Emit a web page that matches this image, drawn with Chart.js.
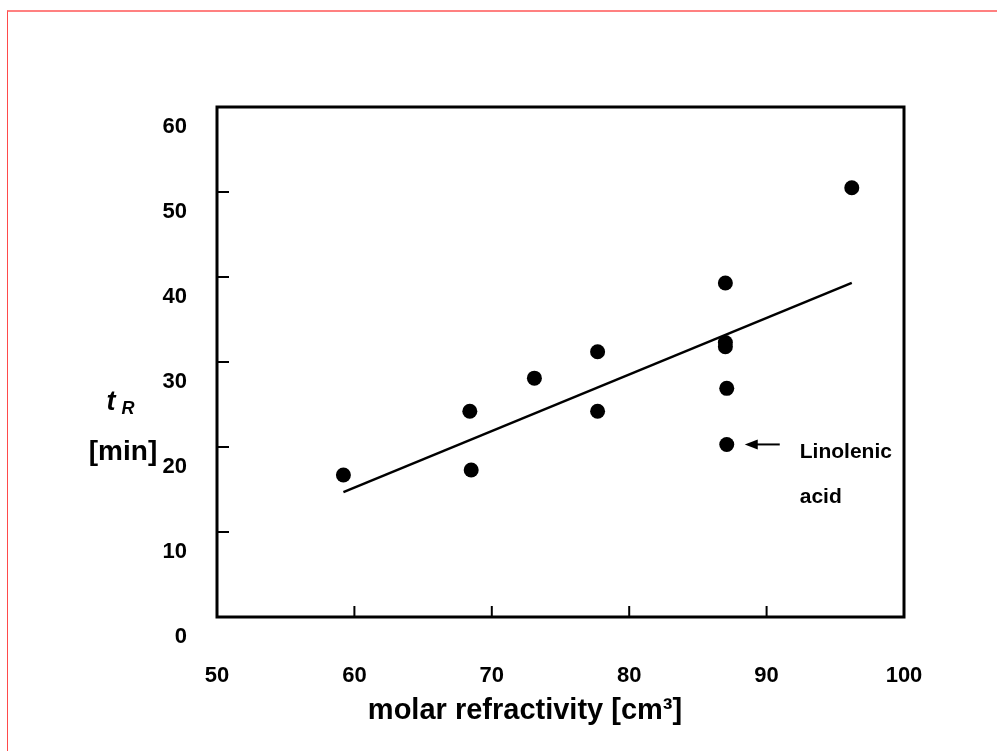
<!DOCTYPE html>
<html>
<head>
<meta charset="utf-8">
<script src="https://cdn.jsdelivr.net/npm/chart.js@4"></script>
<style>
  html, body { margin: 0; padding: 0; background: #fff; overflow: hidden; }
  #wrap { position: relative; width: 997px; height: 751px; }
  #frame {
    position: absolute; left: 7px; top: 10px; width: 1200px; height: 1000px;
    border-top: 2px solid #ff8080; border-left: 1px solid #ff4a4a;
    pointer-events: none;
  }
  canvas { position: absolute; left: 0; top: 0; }
</style>
</head>
<body>
<div id="wrap">
  <div id="frame"></div>
  <canvas id="chart" width="997" height="751"></canvas>
</div>
<script>
// molar refractivity [cm3] vs retention time tR [min]
const mrValues = [59.2, 68.4, 68.5, 73.1, 77.7, 77.7, 87.0, 87.0, 87.0, 87.1, 87.1, 96.2];
const tRValues = [16.7, 24.2, 17.3, 28.1, 31.2, 24.2, 39.3, 32.3, 31.8, 26.9, 20.3, 50.5];

// regression line end points
const fitX = [59.2, 96.2];
const fitY = [14.7, 39.3];

// axis ticks
const xTicks = [50, 60, 70, 80, 90, 100];
const yTicks = [0, 10, 20, 30, 40, 50, 60];

const xTitle = 'molar refractivity [cm\u00b3]';
const noteLines = ['Linolenic', 'acid'];
const notePoint = [87.1, 20.3];

const FONT = "'Liberation Sans', Arial, sans-serif";

const points = mrValues.map((x, i) => ({ x, y: tRValues[i] }));
const fitLine = fitX.map((x, i) => ({ x, y: fitY[i] }));

// frame, inward ticks, titles and the note arrow
const decorPlugin = {
  id: 'decor',
  afterDraw(chart) {
    const { ctx, chartArea: a, scales } = chart;
    const xs = scales.x, ys = scales.y;
    ctx.save();
    ctx.strokeStyle = '#000';
    ctx.lineWidth = 2;
    xTicks.slice(1, -1).forEach((v) => {
      const px = xs.getPixelForValue(v);
      ctx.beginPath();
      ctx.moveTo(px, a.bottom);
      ctx.lineTo(px, a.bottom - 11);
      ctx.stroke();
    });
    yTicks.slice(1, -1).forEach((v) => {
      const py = ys.getPixelForValue(v);
      ctx.beginPath();
      ctx.moveTo(a.left, py);
      ctx.lineTo(a.left + 12, py);
      ctx.stroke();
    });
    ctx.lineWidth = 3;
    ctx.strokeRect(a.left, a.top, a.right - a.left, a.bottom - a.top);

    ctx.fillStyle = '#000';
    ctx.textBaseline = 'middle';
    ctx.textAlign = 'center';
    ctx.font = 'bold 29px ' + FONT;
    ctx.fillText(xTitle, a.left + 308, a.bottom + 94);

    // y title: t_R [min]
    ctx.font = 'italic bold 27px ' + FONT;
    ctx.fillText('t', a.left - 106, ys.getPixelForValue(25.2));
    ctx.font = 'italic bold 18px ' + FONT;
    ctx.fillText('R', a.left - 89, ys.getPixelForValue(24.5));
    ctx.font = 'bold 28px ' + FONT;
    ctx.fillText('[min]', a.left - 94, ys.getPixelForValue(19.4));

    // note arrow
    const px = xs.getPixelForValue(notePoint[0]);
    const py = ys.getPixelForValue(notePoint[1]);
    ctx.lineWidth = 2;
    ctx.beginPath();
    ctx.moveTo(px + 53, py);
    ctx.lineTo(px + 26, py);
    ctx.stroke();
    ctx.beginPath();
    ctx.moveTo(px + 18, py);
    ctx.lineTo(px + 31, py - 5);
    ctx.lineTo(px + 31, py + 5);
    ctx.closePath();
    ctx.fill();

    ctx.textAlign = 'left';
    ctx.font = 'bold 21px ' + FONT;
    ctx.fillText(noteLines[0], px + 73, py + 8);
    ctx.fillText(noteLines[1], px + 73, py + 53);
    ctx.restore();
  },
};

new Chart(document.getElementById('chart'), {
  type: 'scatter',
  data: {
    datasets: [
      {
        label: 'tR',
        data: points,
        backgroundColor: '#000',
        borderColor: '#000',
        pointRadius: 7.5,
        pointBorderWidth: 0,
      },
      {
        type: 'line',
        label: 'fit',
        data: fitLine,
        borderColor: '#000',
        borderWidth: 2.5,
        pointRadius: 0,
        fill: false,
        tension: 0,
      },
    ],
  },
  options: {
    responsive: false,
    animation: false,
    events: [],
    layout: { padding: { top: 107, right: 93, left: 0, bottom: 0 } },
    plugins: { legend: { display: false }, tooltip: { enabled: false } },
    scales: {
      x: {
        type: 'linear',
        min: 50,
        max: 100,
        afterFit(s) { s.height = 134; },
        afterBuildTicks(s) { s.ticks = xTicks.map((v) => ({ value: v })); },
        grid: { display: false },
        border: { display: false },
        ticks: {
          color: '#000',
          padding: 38,
          font: { family: FONT, size: 22, weight: 'bold' },
        },
      },
      y: {
        type: 'linear',
        min: 0,
        max: 60,
        afterFit(s) { s.width = 217; },
        afterBuildTicks(s) { s.ticks = yTicks.map((v) => ({ value: v })); },
        grid: { display: false },
        border: { display: false },
        ticks: {
          color: '#000',
          padding: 22,
          labelOffset: 20,
          font: { family: FONT, size: 22, weight: 'bold' },
        },
      },
    },
  },
  plugins: [decorPlugin],
});
</script>
</body>
</html>
